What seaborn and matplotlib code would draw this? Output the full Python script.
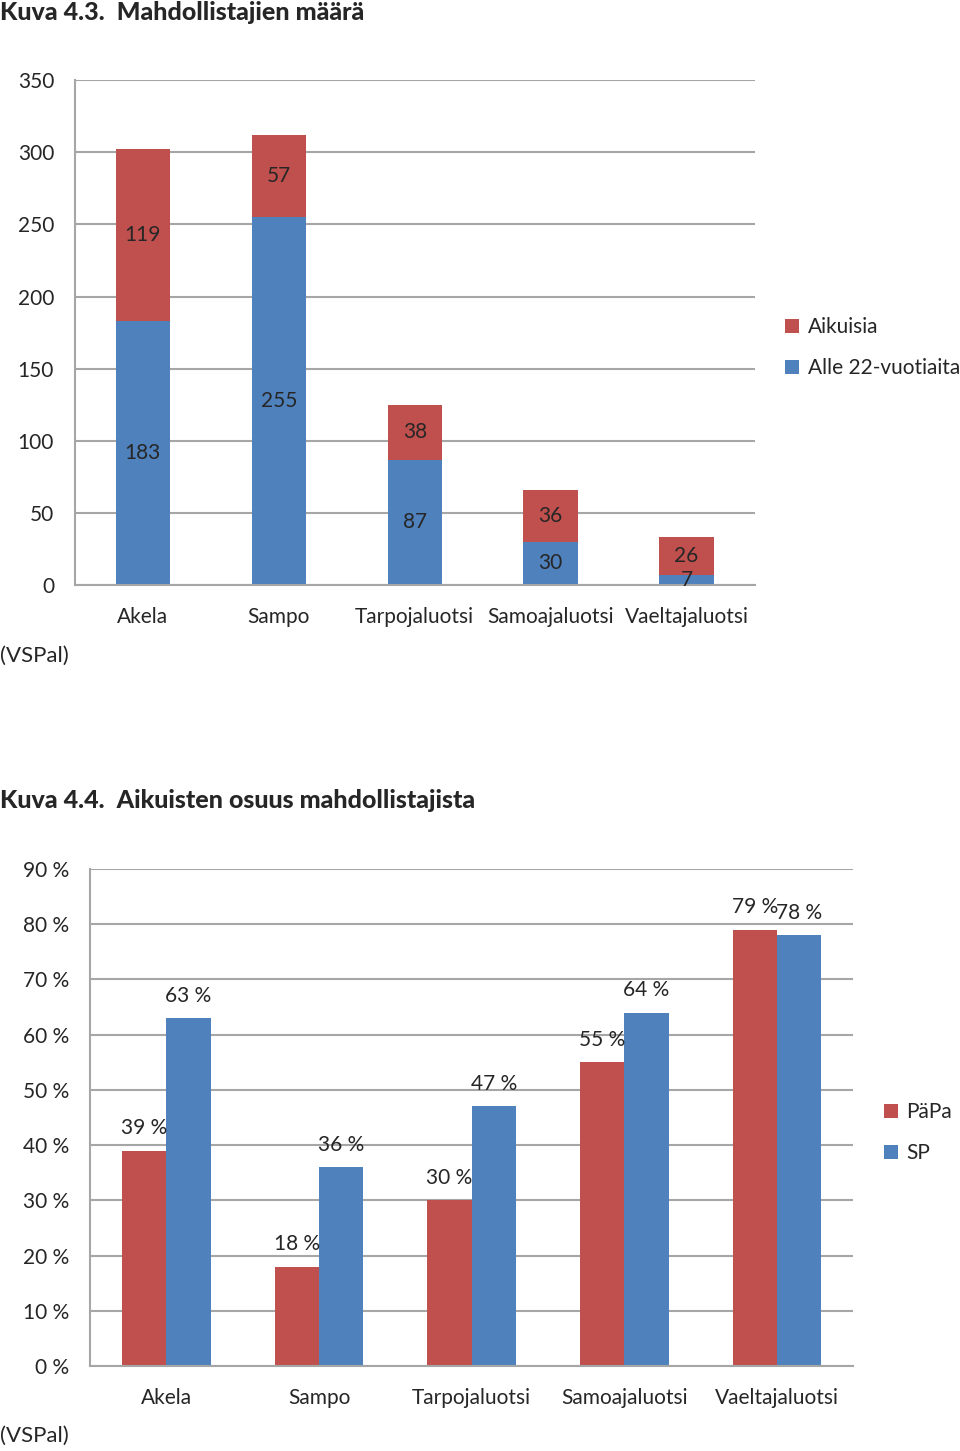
import numpy as np
import pandas as pd
import matplotlib
matplotlib.use('Agg')
import matplotlib.pyplot as plt
import seaborn as sns
from matplotlib.ticker import FixedLocator, PercentFormatter

# Data
categories = ['Akela', 'Sampo', 'Tarpojaluotsi', 'Samoajaluotsi', 'Vaeltajaluotsi']
aikuisia = [119, 57, 38, 36, 26]
alle22 = [183, 255, 87, 30, 7]

papa = [39, 18, 30, 55, 79]
sp = [63, 36, 47, 64, 78]

RED = '#C0504D'
BLUE = '#4F81BD'
GRID = '#A6A6A6'

sns.set_style('white')
plt.rcParams['font.family'] = ['Lato', 'DejaVu Sans']

fig = plt.figure(figsize=(9.6, 14.51), dpi=100)


def style_axes(ax, n):
    ax.grid(False)
    ax.yaxis.grid(True, color=GRID, linewidth=1.5)
    ax.set_axisbelow(True)
    for s in ['top', 'right']:
        ax.spines[s].set_visible(False)
    ax.spines['left'].set_color(GRID)
    ax.spines['bottom'].set_color(GRID)
    ax.spines['left'].set_linewidth(1.5)
    ax.spines['bottom'].set_linewidth(1.5)
    ax.set_xlim(-0.5, n - 0.5)
    ax.xaxis.set_minor_locator(FixedLocator(np.arange(-0.5, n, 1.0)))
    ax.tick_params(axis='x', which='major', length=0, labelsize=15, pad=16)
    ax.tick_params(axis='x', which='minor', length=7, width=1.5, color=GRID)
    ax.tick_params(axis='y', which='major', length=7, width=1.5, color=GRID,
                   labelsize=15, pad=8)
    ax.set_xlabel('')
    ax.set_ylabel('')


# Chart 1: stacked bars
ax1 = fig.add_axes([0.078, 0.5968, 0.708, 0.348])
totals = [a + b for a, b in zip(aikuisia, alle22)]
sns.barplot(x=categories, y=totals, color=RED, width=0.4, saturation=1,
            linewidth=0, ax=ax1, label='Aikuisia')
sns.barplot(x=categories, y=alle22, color=BLUE, width=0.4, saturation=1,
            linewidth=0, ax=ax1, label='Alle 22-vuotiaita')
ax1.set_ylim(0, 350)
ax1.set_yticks(range(0, 351, 50))
style_axes(ax1, len(categories))

red_bars = ax1.containers[0]
blue_bars = ax1.containers[1]
for rect, v, b in zip(red_bars, aikuisia, alle22):
    ax1.text(rect.get_x() + rect.get_width() / 2, b + v / 2, str(v),
             ha='center', va='center', fontsize=15)
for rect, v in zip(blue_bars, alle22):
    ax1.text(rect.get_x() + rect.get_width() / 2, v / 2, str(v),
             ha='center', va='center', fontsize=15)

ax1.legend(loc='center left', bbox_to_anchor=(1.032, 0.47), frameon=False,
           fontsize=15, handlelength=0.7, handleheight=0.7,
           handletextpad=0.4, labelspacing=1.0, borderaxespad=0)

fig.text(0.0, 1 - 12 / 1451, 'Kuva 4.3.  Mahdollistajien määrä', fontsize=18,
         fontweight='black', ha='left', va='center')
fig.text(0.0, 1 - 656 / 1451, '(VSPal)', fontsize=16, ha='left', va='center')

# Chart 2: grouped bars
ax2 = fig.add_axes([0.09375, 0.0586, 0.795, 0.3425])
df = pd.DataFrame({
    'kategoria': categories * 2,
    'ryhma': ['PäPa'] * len(categories) + ['SP'] * len(categories),
    'osuus': [v / 100 for v in papa] + [v / 100 for v in sp],
})
sns.barplot(data=df, x='kategoria', y='osuus', hue='ryhma',
            palette=[RED, BLUE], width=0.58, saturation=1, linewidth=0, ax=ax2)
ax2.set_ylim(0, 0.9)
ax2.set_yticks(np.arange(0, 0.91, 0.1))
ax2.yaxis.set_major_formatter(PercentFormatter(1.0, decimals=0, symbol=' %'))
style_axes(ax2, len(categories))

for cont in ax2.containers:
    ax2.bar_label(cont, labels=[f'{round(r.get_height() * 100)} %' for r in cont],
                  padding=9, fontsize=15)

ax2.legend(loc='center left', bbox_to_anchor=(1.029, 0.469), frameon=False,
           fontsize=15, handlelength=0.7, handleheight=0.7,
           handletextpad=0.4, labelspacing=1.0, title=None, borderaxespad=0)

fig.text(0.0, 1 - 800 / 1451, 'Kuva 4.4.  Aikuisten osuus mahdollistajista',
         fontsize=18, fontweight='black', ha='left', va='center')
fig.text(0.0, 1 - 1436 / 1451, '(VSPal)', fontsize=16, ha='left', va='center')

fig.savefig('out.png', dpi=100)
